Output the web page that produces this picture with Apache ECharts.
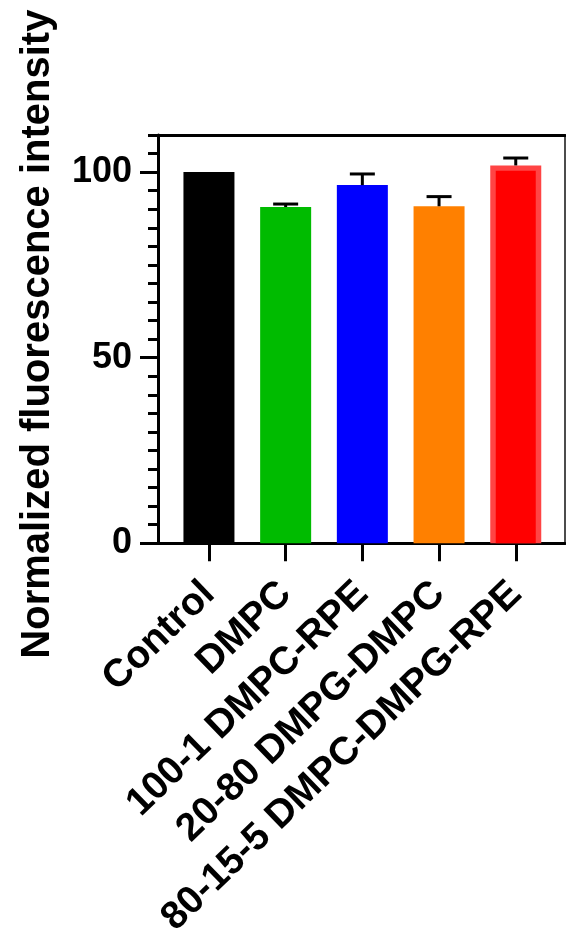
<!DOCTYPE html>
<html>
<head>
<meta charset="utf-8">
<script src="https://cdn.jsdelivr.net/npm/echarts@6/dist/echarts.min.js"></script>
<style>
  html, body { margin: 0; padding: 0; background: #ffffff; }
  #chart { width: 566px; height: 949px; }
</style>
</head>
<body>
<div id="chart"></div>
<script>
// ---- data ----
var categories = ['Control', 'DMPC', '100-1 DMPC-RPE', '20-80 DMPG-DMPC', '80-15-5 DMPC-DMPG-RPE'];
var means = [100, 90.6, 96.5, 90.8, 101.8];
var errors = [0, 0.8, 3.0, 2.6, 2.0];
var yMajorTicks = [0, 50, 100];
var yTitle = 'Normalized fluorescence intensity';

var barColors = ['#000000', '#00bb00', '#0000ff', '#ff8000', '#ff0000'];
var FONT = '"Liberation Sans", Arial, sans-serif';

var seriesData = categories.map(function (c, i) { return [i, means[i], errors[i]]; });

var chart = echarts.init(document.getElementById('chart'), null, { renderer: 'canvas' });

var option = {
  backgroundColor: '#ffffff',
  animation: false,
  grid: [
    { left: 170.6, right: 11.9, top: 135, bottom: 405.7 },   // bars
    { left: 158, right: 1, top: 135, bottom: 405.7 }          // frame / axes
  ],
  xAxis: [
    {
      gridIndex: 0, type: 'category', data: categories, boundaryGap: true,
      axisLine: { show: false },
      axisTick: { show: true, alignWithLabel: true, length: 18, lineStyle: { color: '#000', width: 3 } },
      axisLabel: {
        interval: 0, rotate: 44, margin: 45, color: '#000',
        fontFamily: FONT, fontWeight: 'bold', fontSize: 39
      },
      splitLine: { show: false }
    },
    {
      gridIndex: 1, type: 'value', min: 0, max: 1, position: 'bottom',
      axisLine: { show: true, onZero: false, lineStyle: { color: '#000', width: 3 } },
      axisTick: { show: false }, axisLabel: { show: false }, splitLine: { show: false }
    },
    {
      gridIndex: 1, type: 'value', min: 0, max: 1, position: 'top',
      axisLine: { show: true, onZero: false, lineStyle: { color: '#000', width: 3 } },
      axisTick: { show: false }, axisLabel: { show: false }, splitLine: { show: false }
    }
  ],
  yAxis: [
    {
      gridIndex: 0, type: 'value', min: 0, max: 110, show: false
    },
    {
      gridIndex: 1, type: 'value', min: 0, max: 110, interval: 50, position: 'left',
      name: yTitle, nameLocation: 'middle', nameGap: 100,
      nameTextStyle: { color: '#000', fontFamily: FONT, fontWeight: 'bold', fontSize: 40, padding: [0, 0, 0, 10] },
      axisLine: { show: true, onZero: false, lineStyle: { color: '#000', width: 3 } },
      axisTick: { show: true, length: 18, customValues: yMajorTicks, lineStyle: { color: '#000', width: 3 } },
      axisLabel: {
        show: true, customValues: yMajorTicks, margin: 26, color: '#000',
        fontFamily: FONT, fontWeight: 'bold', fontSize: 36
      },
      splitLine: { show: false }
    },
    {
      gridIndex: 1, type: 'value', min: 0, max: 110, interval: 5, position: 'left',
      axisLine: { show: false },
      axisTick: { show: true, length: 10, lineStyle: { color: '#000', width: 3 } },
      axisLabel: { show: false }, splitLine: { show: false }
    },
    {
      gridIndex: 1, type: 'value', min: 0, max: 110, position: 'right',
      axisLine: { show: true, onZero: false, lineStyle: { color: '#111', width: 1.5 } },
      axisTick: { show: false }, axisLabel: { show: false }, splitLine: { show: false }
    }
  ],
  series: [
    {
      type: 'custom',
      xAxisIndex: 0, yAxisIndex: 0,
      data: seriesData,
      encode: { x: 0, y: 1 },
      renderItem: function (params, api) {
        var i = api.value(0), v = api.value(1), e = api.value(2);
        var base = api.coord([i, 0]);
        var top = api.coord([i, v]);
        var bw = api.size([1, 0])[0] * 0.665;
        var x0 = base[0] - bw / 2;
        var children = [];
        if (i === 4) {
          children.push({ type: 'rect', shape: { x: x0, y: top[1], width: bw, height: base[1] - top[1] },
                          style: { fill: '#ff4444' } });
          children.push({ type: 'rect', shape: { x: x0 + 5.5, y: top[1] + 5.3, width: bw - 11, height: base[1] - top[1] - 5.3 },
                          style: { fill: barColors[i] } });
        } else {
          children.push({ type: 'rect', shape: { x: x0, y: top[1], width: bw, height: base[1] - top[1] },
                          style: { fill: barColors[i] } });
        }
        if (e > 0) {
          var cap = api.coord([i, v + e]);
          children.push({ type: 'line', shape: { x1: base[0], y1: top[1], x2: base[0], y2: cap[1] },
                          style: { stroke: '#000', lineWidth: 3 } });
          children.push({ type: 'line', shape: { x1: base[0] - 12.5, y1: cap[1], x2: base[0] + 12.5, y2: cap[1] },
                          style: { stroke: '#000', lineWidth: 3 } });
        }
        return { type: 'group', children: children };
      }
    }
  ]
};

chart.setOption(option);
</script>
</body>
</html>
